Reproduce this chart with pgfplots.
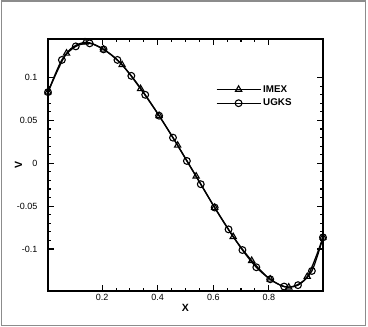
\documentclass[border=0pt]{standalone}
\usepackage{fontspec}
\setmainfont{Liberation Sans}
\usepackage{pgfplots}
\pgfplotsset{compat=1.18}

\pgfplotstableread{
x v
0.005 0.0830
0.0717 0.1283
0.1383 0.1411
0.205 0.1329
0.2717 0.1148
0.3383 0.0869
0.405 0.0555
0.4717 0.0209
0.5383 -0.0151
0.605 -0.0516
0.6717 -0.0857
0.7383 -0.1136
0.805 -0.1353
0.8717 -0.1446
0.9383 -0.1322
0.995 -0.0864
}\imex

\pgfplotstableread{
x v
0.005 0.0830
0.055 0.1206
0.105 0.1364
0.155 0.1399
0.205 0.1329
0.255 0.1206
0.305 0.1020
0.355 0.0799
0.405 0.0555
0.455 0.0299
0.505 0.0027
0.555 -0.0244
0.605 -0.0516
0.655 -0.0771
0.705 -0.1012
0.755 -0.1213
0.805 -0.1353
0.855 -0.1438
0.905 -0.1422
0.955 -0.1256
0.995 -0.0864
}\ugks

\begin{document}
\begin{tikzpicture}
\begin{axis}[
    name=ax,
    scale only axis,
    width=275pt,
    height=252pt,
    xmin=0.005, xmax=0.995,
    ymin=-0.149, ymax=0.145,
    xtick={0.2,0.4,0.6,0.8},
    ytick={-0.1,-0.05,0,0.05,0.1},
    minor x tick num=3,
    minor y tick num=4,
    tick align=inside,
    major tick length=6pt,
    minor tick length=3pt,
    axis line style={line width=1.6pt},
    every tick/.style={black, line width=1.1pt},
    /pgf/number format/assume math mode=true,
    /pgf/number format/fixed,
    ticklabel style={font=\fontsize{9}{10}\selectfont},
    yticklabel style={xshift=-7pt},
    xlabel={\textbf{X}},
    ylabel={\textbf{V}},
    label style={font=\fontsize{10.5}{12}\selectfont},
    xlabel style={yshift=3pt},
    ylabel style={yshift=-12pt},
    legend style={draw=none, fill=none, inner sep=0pt,
        at={(rel axis cs:0.61,0.825)}, anchor=north west,
        font=\fontsize{9.8}{11}\selectfont\bfseries,
        row sep=1.5pt},
    legend cell align=left,
    legend image code/.code={\draw[mark repeat=2, mark phase=2]
        plot coordinates {(0pt,0pt) (22pt,0pt) (44pt,0pt)};},
]
\addplot[black, line width=1.3pt, smooth, mark=triangle,
    mark size=3.6pt, mark options={solid, line width=1.1pt}] table {\imex};
\addlegendentry{IMEX}
\addplot[black, line width=1.3pt, smooth, mark=o,
    mark size=3.4pt, mark options={solid, line width=1.1pt}] table {\ugks};
\addlegendentry{UGKS}
\end{axis}
\pgfresetboundingbox
\path[use as bounding box] ([shift={(-48pt,-36pt)}]ax.south west) rectangle ([shift={(320pt,291pt)}]ax.south west);
\draw[black!45, line width=1.2pt] ([shift={(-46.5pt,-34.5pt)}]ax.south west) rectangle ([shift={(317.5pt,290pt)}]ax.south west);
\end{tikzpicture}
\end{document}
